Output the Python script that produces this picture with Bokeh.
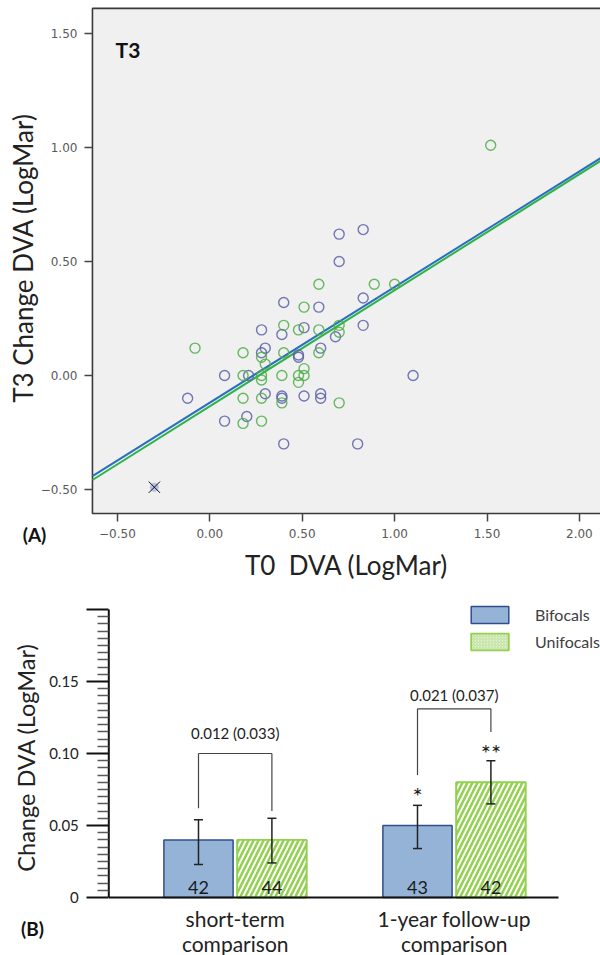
import math
from bokeh.plotting import figure
from bokeh.layouts import column
from bokeh.models import (Range1d, Label, FixedTicker, CustomJSTickFormatter, Whisker, TeeHead,
                          ColumnDataSource, Legend, LegendItem)
from bokeh.transform import dodge
from bokeh.embed import file_html
from bokeh.resources import INLINE
from bokeh.core.properties import value

# ---------------- Panel A data ----------------
blue_x = [0.70, 0.83, 0.70, 0.40, 0.59, 0.83, 0.83, 0.28, 0.39, 0.51, 0.68, 0.30, 0.28, 0.60,
          0.48, 0.48, 0.08, 0.21, 1.10, -0.12, 0.30, 0.39, 0.51, 0.60, 0.60, 0.08, 0.20, 0.40,
          0.80, 0.39]
blue_y = [0.62, 0.64, 0.50, 0.32, 0.30, 0.34, 0.22, 0.20, 0.18, 0.21, 0.17, 0.12, 0.10, 0.12,
          0.09, 0.08, 0.00, 0.00, 0.00, -0.10, -0.08, -0.09, -0.09, -0.08, -0.10, -0.20, -0.18,
          -0.30, -0.30, -0.10]
green_x = [1.52, 0.59, 0.89, 1.00, 0.51, 0.40, 0.48, 0.59, 0.70, 0.70, -0.08, 0.18, 0.40, 0.59,
           0.28, 0.30, 0.51, 0.51, 0.18, 0.28, 0.28, 0.39, 0.48, 0.48, 0.18, 0.28, 0.39, 0.70,
           0.18, 0.28]
green_y = [1.01, 0.40, 0.40, 0.40, 0.30, 0.22, 0.20, 0.20, 0.22, 0.19, 0.12, 0.10, 0.10, 0.10,
           0.08, 0.05, 0.03, 0.00, 0.00, 0.00, -0.02, 0.00, 0.00, -0.03, -0.10, -0.10, -0.12,
           -0.12, -0.21, -0.20]
blue_fit = {"gradient": 0.507, "intercept": -0.119}
green_fit = {"gradient": 0.509, "intercept": -0.135}
cross_x = [-0.30]
cross_y = [-0.49]
x_ticks_a = [-0.5, 0.0, 0.5, 1.0, 1.5, 2.0]
y_ticks_a = [-0.5, 0.0, 0.5, 1.0, 1.5]
plot_area_x = (-0.635, 2.13)     # limits of the grey SPSS plot area
plot_area_y = (-0.605, 1.61)

# ---------------- Panel B data ----------------
cat_pos = [1, 2]
cat_labels = ["short-term\ncomparison", "1-year follow-up\ncomparison"]
bif_mean = [0.04, 0.05]
uni_mean = [0.04, 0.08]
bif_lo = [0.023, 0.034]
bif_hi = [0.054, 0.064]
uni_lo = [0.024, 0.065]
uni_hi = [0.055, 0.095]
bif_n = ["42", "43"]
uni_n = ["44", "42"]
p_text = ["0.012 (0.033)", "0.021 (0.037)"]
p_text_y = [0.1144, 0.1407]
bracket_top = [0.100, 0.131]
bracket_left_end = [0.062, 0.085]
bracket_right_end = [0.060, 0.115]
bif_star = ["", "*"]
uni_star = ["", "**"]
bif_star_y = [0.0, 0.071]
uni_star_y = [0.0, 0.1005]
y_major_b = [0.0, 0.05, 0.10, 0.15, 0.20]
y_minor_b = [round(0.005 * i, 4) for i in range(1, 40) if i % 10]
axis_span_b = {"x": (0.4228, 2.4763), "y": (0.0, 0.2)}

FONT = "Lato"

# ================= Panel A =================
p1 = figure(width=600, height=590, output_backend="svg", toolbar_location=None,
            x_range=Range1d(-209.3 / 184.8, (600 - 209.3) / 184.8),
            y_range=Range1d((375 - 590) / 228.0, 375 / 228.0),
            min_border_left=0, min_border_right=0, min_border_top=0, min_border_bottom=0)
p1.outline_line_color = None
p1.background_fill_color = "white"
p1.border_fill_color = "white"
p1.xgrid.visible = False
p1.ygrid.visible = False

# grey plot area with its frame
p1.quad(left=[plot_area_x[0]], right=[plot_area_x[1]], bottom=[plot_area_y[0]], top=[plot_area_y[1]],
        fill_color="#f0f0f0", line_color="#3a3a3a", line_width=1.6)

fmt_a = CustomJSTickFormatter(code="return (tick < 0 ? '\u2212' : '') + Math.abs(tick).toFixed(2);")
xa1 = p1.xaxis[0]
ya1 = p1.yaxis[0]
xa1.fixed_location = plot_area_y[0]
ya1.fixed_location = plot_area_x[0]
for ax, ticks in ((xa1, x_ticks_a), (ya1, y_ticks_a)):
    ax.ticker = FixedTicker(ticks=ticks)
    ax.formatter = fmt_a
    ax.axis_line_color = None
    ax.major_tick_in = 0
    ax.major_tick_out = 8
    ax.major_tick_line_color = "#444444"
    ax.major_tick_line_width = 1.5
    ax.minor_tick_line_color = None
    ax.major_label_text_font = "DejaVu Sans"
    ax.major_label_text_font_size = "12px"
    ax.major_label_text_color = "#595959"
xa1.major_label_standoff = 8
ya1.major_label_standoff = 7

# regression lines over the plot area
fx = [plot_area_x[0], plot_area_x[1]]
p1.line(fx, [green_fit["intercept"] + green_fit["gradient"] * v for v in fx],
        line_color="#2db34a", line_width=2)
p1.line(fx, [blue_fit["intercept"] + blue_fit["gradient"] * v for v in fx],
        line_color="#2a6fbd", line_width=2)

p1.scatter(blue_x, blue_y, marker="circle", size=10, fill_color=None,
           line_color="#5a5fa8", line_width=1.4, line_alpha=0.85)
p1.scatter(green_x, green_y, marker="circle", size=10, fill_color=None,
           line_color="#4cae47", line_width=1.4, line_alpha=0.85)
p1.scatter(cross_x, cross_y, marker="circle", size=9, fill_color="#a9b6dc",
           line_color=None, fill_alpha=0.8)
p1.scatter(cross_x, cross_y, marker="x", size=16, line_color="#111111", line_width=1)

p1.add_layout(Label(x=-0.51, y=1.428, text="T3", text_font=FONT, text_font_size="21px",
                    text_font_style="bold", text_baseline="middle", text_align="left",
                    text_color="#111111"))
p1.add_layout(Label(x=-0.9486, y=-0.697, text="(A)", text_font=FONT, text_font_size="19px",
                    text_font_style="bold", text_baseline="middle", text_align="center",
                    text_color="#111111"))
p1.add_layout(Label(x=0.740, y=-0.833, text="T0\u00a0 DVA (LogMar)", text_font=FONT,
                    text_font_size="26px", text_baseline="middle", text_align="center",
                    text_color="#222222"))
p1.add_layout(Label(x=-1.0135, y=0.515, text="T3 Change DVA (LogMar)", text_font=FONT,
                    text_font_size="26px", text_baseline="middle", text_align="center",
                    angle=math.pi / 2, text_color="#222222"))

# ================= Panel B =================
p2 = figure(width=600, height=365, output_backend="svg", toolbar_location=None,
            x_range=Range1d(1 - 234.7 / 219.0, 1 + (600 - 234.7) / 219.0),
            y_range=Range1d(-58 / 1440.0, 307 / 1440.0),
            min_border_left=0, min_border_right=0, min_border_top=0, min_border_bottom=0)
p2.outline_line_color = None
p2.xgrid.visible = False
p2.ygrid.visible = False

src = ColumnDataSource(dict(x=cat_pos, bif=bif_mean, uni=uni_mean, bif_lo=bif_lo, bif_hi=bif_hi,
                            uni_lo=uni_lo, uni_hi=uni_hi, bif_n=bif_n, uni_n=uni_n,
                            bif_star=bif_star, uni_star=uni_star,
                            bif_star_y=bif_star_y, uni_star_y=uni_star_y))
off = 0.1676
bw = 0.316
r_bif = p2.vbar(x=dodge("x", -off), top="bif", width=bw, source=src,
                fill_color="#95b3d7", line_color="#2e4f8a", line_width=1.5)
# key style for the unifocals (fine light texture, as in the legend); hidden under the bars
r_uni_key = p2.vbar(x=dodge("x", off), top="uni", width=bw, source=src,
                    fill_color="#e3f1d3", hatch_pattern="/", hatch_color="#b5dc8c",
                    hatch_weight=0.8, hatch_scale=3, line_color="#92d050", line_width=1.8)
r_uni = p2.vbar(x=dodge("x", off), top="uni", width=bw, source=src,
                fill_color="white", hatch_pattern="/", hatch_color="#92d050",
                hatch_weight=2.5, hatch_scale=10, line_color="#92d050", line_width=1.8)

for key, sgn in (("bif", -1), ("uni", 1)):
    p2.add_layout(Whisker(source=src, base=dodge("x", sgn * off), lower=key + "_lo",
                          upper=key + "_hi", line_color="#222222", line_width=1.5, level="overlay",
                          upper_head=TeeHead(size=9, line_color="#222222", line_width=1.5),
                          lower_head=TeeHead(size=9, line_color="#222222", line_width=1.5)))
    p2.text(x=dodge("x", sgn * off), y=0.0072, text=key + "_n", source=src,
            text_font=value(FONT), text_font_size="18px", text_align="center",
            text_baseline="middle", text_color="#1a1a1a")
    p2.text(x=dodge("x", sgn * off), y=key + "_star_y", text=key + "_star", source=src,
            text_font=value(FONT), text_font_size="24px", text_align="center",
            text_baseline="middle", text_color="#1a1a1a")

# significance brackets
lx = [c - off for c in cat_pos]
rx = [c + off for c in cat_pos]
p2.segment(x0=lx, y0=bracket_top, x1=rx, y1=bracket_top, line_color="#444444", line_width=1.2)
p2.segment(x0=lx, y0=bracket_top, x1=lx, y1=bracket_left_end, line_color="#444444", line_width=1.2)
p2.segment(x0=rx, y0=bracket_top, x1=rx, y1=bracket_right_end, line_color="#444444", line_width=1.2)
p2.text(x=cat_pos, y=p_text_y, text=p_text, text_font=value(FONT),
        text_font_size="15px", text_align="center", text_baseline="middle", text_color="#222222")

# axes lines
ax0, ax1 = axis_span_b["x"]
ay0, ay1 = axis_span_b["y"]
p2.segment(x0=[ax0], y0=[ay0], x1=[ax1], y1=[ay0], line_color="#111111", line_width=2)
p2.segment(x0=[ax0], y0=[ay0], x1=[ax0], y1=[ay1], line_color="#111111", line_width=2)

ya = p2.yaxis[0]
ya.fixed_location = ax0
ya.ticker = FixedTicker(ticks=y_major_b, minor_ticks=y_minor_b)
ya.formatter = CustomJSTickFormatter(code="if (Math.abs(tick) < 1e-9) return '0'; if (tick > 0.19) return ''; return tick.toFixed(2);")
ya.axis_line_color = None
ya.major_tick_in = 0
ya.major_tick_out = 22
ya.major_tick_line_width = 2
ya.major_tick_line_color = "#111111"
ya.minor_tick_in = 0
ya.minor_tick_out = 11
ya.minor_tick_line_width = 1.5
ya.minor_tick_line_color = "#5a5a5a"
ya.major_label_text_font = FONT
ya.major_label_text_font_size = "15px"
ya.major_label_text_color = "#222222"
ya.major_label_standoff = 8

xa = p2.xaxis[0]
xa.fixed_location = ay0
xa.ticker = FixedTicker(ticks=cat_pos)
xa.major_label_overrides = {c: l for c, l in zip(cat_pos, cat_labels)}
xa.axis_line_color = None
xa.major_tick_line_color = None
xa.major_tick_out = 0
xa.major_tick_in = 0
xa.minor_tick_line_color = None
xa.major_label_text_font = FONT
xa.major_label_text_font_size = "21px"
xa.major_label_text_color = "#222222"
xa.major_label_text_line_height = 1.0
xa.major_label_standoff = 8

p2.add_layout(Label(x=0.047, y=0.0972, text="Change DVA (LogMar)", text_font=FONT,
                    text_font_size="23.5px", text_baseline="middle", text_align="center",
                    angle=math.pi / 2, text_color="#222222"))
p2.add_layout(Label(x=0.0744, y=-0.0215, text="(B)", text_font=FONT,
                    text_font_size="19px", text_font_style="bold", text_baseline="middle",
                    text_align="center", text_color="#111111"))

legend = Legend(items=[LegendItem(label="Bifocals", renderers=[r_bif]),
                       LegendItem(label="Unifocals", renderers=[r_uni_key])],
                location=(466, 303), padding=0, margin=0, spacing=6,
                glyph_width=47, glyph_height=21, label_height=21, label_standoff=22,
                label_text_font=FONT, label_text_font_size="16px", label_text_color="#404040",
                border_line_color=None, background_fill_alpha=0)
p2.add_layout(legend)

layout = column(p1, p2, spacing=0)
open("out.html", "w").write(file_html(layout, INLINE))
